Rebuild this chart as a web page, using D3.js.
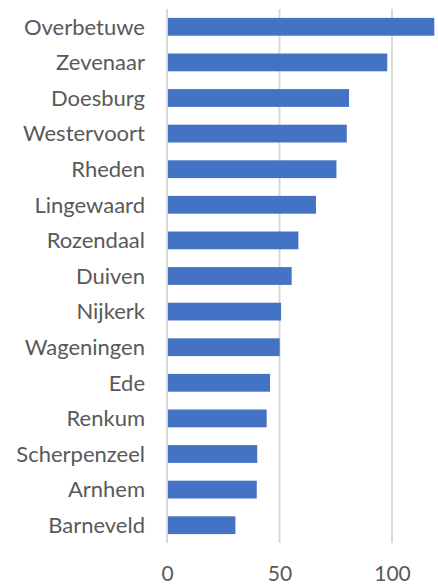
<!DOCTYPE html>
<html>
<head>
<meta charset="utf-8">
<script src="https://cdn.jsdelivr.net/npm/d3@7"></script>
<style>
    body { margin: 0; background: #fff; }
    text { font-family: Lato, "Open Sans", sans-serif; fill: #595959; }
</style>
</head>
<body>
<svg id="chart" width="438" height="586"></svg>
<script>
// data
const gemeenten = ["Overbetuwe", "Zevenaar", "Doesburg", "Westervoort", "Rheden", "Lingewaard", "Rozendaal",
    "Duiven", "Nijkerk", "Wageningen", "Ede", "Renkum", "Scherpenzeel", "Arnhem", "Barneveld"];
const waarden = [118.8, 97.9, 80.9, 79.9, 75.3, 66.2, 58.4, 55.4, 50.7, 50.1, 45.8, 44.3, 40.1, 39.9, 30.4];
const xTicks = [0, 50, 100];

const width = 438, height = 586;
const margin = { top: 9, right: 1, bottom: 43, left: 167 };
const svg = d3.select("#chart");

const data = gemeenten.map((g, i) => ({ name: g, value: waarden[i] }));

// scales
const x = d3.scaleLinear()
    .domain([0, 120])
    .range([margin.left, width - margin.right]);
const y = d3.scaleBand()
    .domain(gemeenten)
    .range([margin.top, height - margin.bottom])
    .paddingInner(0.5)
    .paddingOuter(0.25);

// vertical gridlines
svg.append("g")
    .selectAll("line")
    .data(xTicks)
    .join("line")
    .attr("x1", d => x(d))
    .attr("x2", d => x(d))
    .attr("y1", margin.top)
    .attr("y2", height - margin.bottom)
    .attr("stroke", "#d9d9d9")
    .attr("stroke-width", 2);

// bars
svg.append("g")
    .selectAll("rect")
    .data(data)
    .join("rect")
    .attr("x", x(0) + 1)
    .attr("y", d => y(d.name))
    .attr("width", d => x(d.value) - x(0) - 1)
    .attr("height", y.bandwidth())
    .attr("fill", "#4472c4");

// category labels
const yAxis = svg.append("g")
    .attr("transform", `translate(${margin.left - 22}, 0)`)
    .call(d3.axisLeft(y).tickSize(0).tickPadding(0));
yAxis.select(".domain").remove();
yAxis.selectAll("text")
    .style("font-size", "22px")
    .attr("dy", "0.35em");

// x axis labels
const xAxis = svg.append("g")
    .attr("transform", `translate(0, ${height - margin.bottom})`)
    .call(d3.axisBottom(x).tickValues(xTicks).tickSize(0).tickPadding(23));
xAxis.select(".domain").remove();
xAxis.selectAll("text")
    .style("font-size", "21px");
</script>
</body>
</html>
